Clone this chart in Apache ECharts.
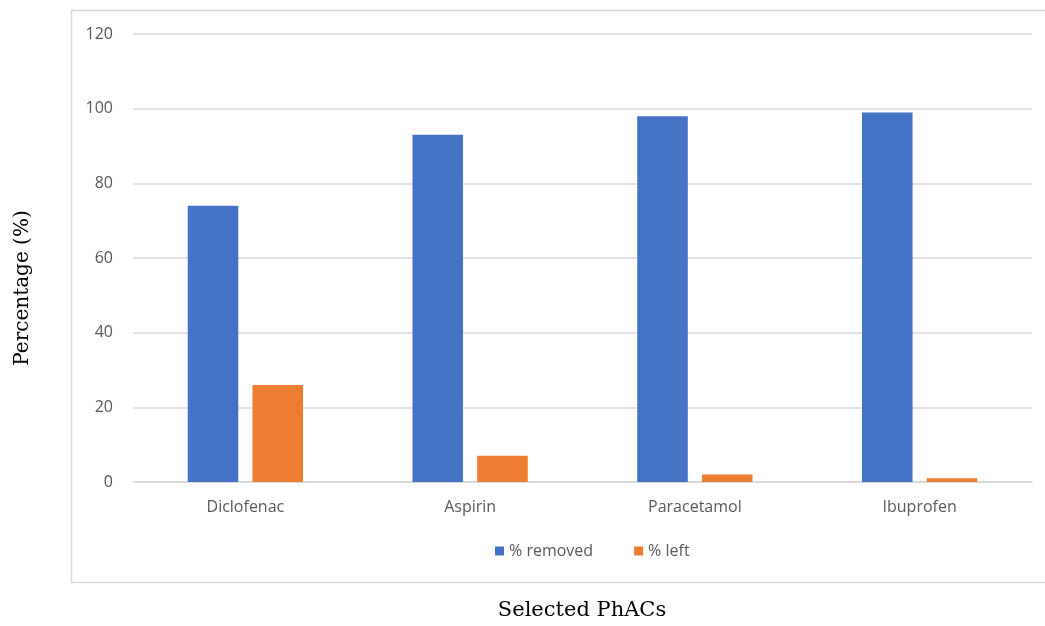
<!DOCTYPE html>
<html>
<head>
<meta charset="utf-8">
<script src="https://cdn.jsdelivr.net/npm/echarts@6/dist/echarts.min.js"></script>
<style>
  html, body { margin: 0; padding: 0; background: #ffffff; }
  #chart { width: 1045px; height: 626px; }
</style>
</head>
<body>
<div id="chart"></div>
<script>
// Removal of selected pharmaceutically active compounds
const categories = ['Diclofenac', 'Aspirin', 'Paracetamol', 'Ibuprofen'];
const removed = [74, 93, 98, 99];
const left = [26, 7, 2, 1];
const yTicks = { min: 0, max: 120, interval: 20 };

const chart = echarts.init(document.getElementById('chart'), null, { renderer: 'canvas' });

const labelFont = '"Open Sans", "Noto Sans", sans-serif';
const titleFont = '"DejaVu Serif", "Liberation Serif", serif';

chart.setOption({
  backgroundColor: '#ffffff',
  animation: false,
  graphic: [
    {
      type: 'rect',
      shape: { x: 71.5, y: 10.5, width: 1000, height: 572 },
      style: { fill: 'none', stroke: '#d9d9d9', lineWidth: 1.5 },
      silent: true,
      z: -1
    },
    {
      type: 'text',
      x: 582,
      y: 611,
      style: {
        text: 'Selected PhACs',
        font: '21px ' + titleFont,
        fill: '#000000',
        textAlign: 'center',
        textVerticalAlign: 'middle'
      }
    },
    {
      type: 'text',
      x: 23,
      y: 288,
      rotation: Math.PI / 2,
      style: {
        text: 'Percentage (%)',
        font: '20px ' + titleFont,
        fill: '#000000',
        textAlign: 'center',
        textVerticalAlign: 'middle'
      }
    }
  ],
  legend: {
    data: ['% removed', '% left'],
    left: 490,
    top: 538,
    itemWidth: 9,
    itemHeight: 9,
    itemGap: 41,
    icon: 'rect',
    textStyle: { fontFamily: labelFont, fontSize: 16, color: '#595959' }
  },
  grid: { left: 133, right: 13, top: 34, bottom: 144, containLabel: false },
  xAxis: {
    type: 'category',
    data: categories,
    axisLine: { show: true, lineStyle: { color: '#d9d9d9', width: 1.5 } },
    axisTick: { show: false },
    axisLabel: { fontFamily: labelFont, fontSize: 16, color: '#595959', margin: 17 }
  },
  yAxis: {
    type: 'value',
    min: yTicks.min,
    max: yTicks.max,
    interval: yTicks.interval,
    axisLine: { show: false },
    axisTick: { show: false },
    splitLine: { lineStyle: { color: '#d9d9d9', width: 1.5 } },
    axisLabel: { fontFamily: labelFont, fontSize: 16, color: '#595959', margin: 20 }
  },
  series: [
    {
      name: '% removed',
      type: 'bar',
      data: removed,
      barWidth: '22.5%',
      barGap: '28%',
      itemStyle: { color: '#4472c4' }
    },
    {
      name: '% left',
      type: 'bar',
      data: left,
      barWidth: '22.5%',
      itemStyle: { color: '#ed7d31' }
    }
  ]
});
</script>
</body>
</html>
